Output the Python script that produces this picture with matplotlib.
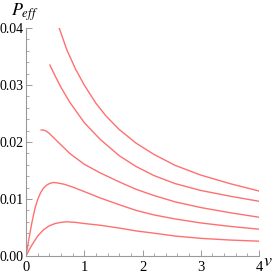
import matplotlib
matplotlib.use("Agg")
import matplotlib.pyplot as plt
from matplotlib.ticker import MultipleLocator, FormatStrFormatter

# curve data (v, P_eff)
v1 = [0.57, 0.7, 0.85, 1.0, 1.2, 1.37, 1.6, 1.89, 2.2, 2.56, 3.0, 3.5, 4.0]
p1 = [0.040, 0.0362, 0.0328, 0.0300, 0.0268, 0.0246, 0.0222, 0.0198, 0.0178, 0.0159, 0.0142, 0.0127, 0.0114]

v2 = [0.41, 0.5, 0.6, 0.75, 1.0, 1.27, 1.6, 1.89, 2.2, 2.56, 3.0, 3.5, 4.0]
p2 = [0.0335, 0.0316, 0.0296, 0.0270, 0.0234, 0.0205, 0.0176, 0.0157, 0.0141, 0.0127, 0.0115, 0.0105, 0.0096]

v3 = [0.26, 0.3, 0.35, 0.4, 0.5, 0.6, 0.75, 1.0, 1.27, 1.6, 1.89, 2.2, 2.56, 3.0, 3.5, 4.0]
p3 = [0.0221, 0.0221, 0.0219, 0.0215, 0.0205, 0.0195, 0.0180, 0.0161, 0.0146, 0.0130, 0.0117, 0.0106, 0.0095, 0.0085, 0.0076, 0.0068]

v4 = [0.0, 0.05, 0.1, 0.15, 0.2, 0.25, 0.3, 0.35, 0.4, 0.47, 0.55, 0.65, 0.8, 1.0, 1.27, 1.6, 1.89, 2.2, 2.56, 3.0, 3.5, 4.0]
p4 = [0.0, 0.0030, 0.0058, 0.0082, 0.0099, 0.0111, 0.0119, 0.0124, 0.0127, 0.0129, 0.0128, 0.0126, 0.0121, 0.0113, 0.0102, 0.0090, 0.0080, 0.0072, 0.0065, 0.0058, 0.0052, 0.0047]

v5 = [0.0, 0.05, 0.1, 0.15, 0.2, 0.3, 0.4, 0.5, 0.6, 0.7, 0.85, 1.0, 1.27, 1.6, 1.89, 2.2, 2.56, 3.0, 3.5, 4.0]
p5 = [0.0, 0.0010, 0.0019, 0.0027, 0.0035, 0.0046, 0.0053, 0.0057, 0.0059, 0.0060, 0.0059, 0.0057, 0.0054, 0.0049, 0.0044, 0.0040, 0.0035, 0.0031, 0.0028, 0.0026]

curves = [(v1, p1), (v2, p2), (v3, p3), (v4, p4), (v5, p5)]

plt.rcParams['mathtext.fontset'] = 'stix'
plt.rcParams['font.family'] = ['Liberation Serif', 'DejaVu Serif']

fig = plt.figure(figsize=(2.73, 2.78), dpi=100)
ax = fig.add_axes([26/273, 22/278, (259-26)/273, (256-28)/278])

for vx, py in curves:
    ax.plot(vx, py, color='#ff7070', lw=1.0, clip_on=True, solid_joinstyle='round')

ax.set_xlim(0, 4)
ax.set_ylim(0, 0.04)
for s in ['top', 'right']:
    ax.spines[s].set_visible(False)
for s in ['left', 'bottom']:
    ax.spines[s].set_color('#9a9a9a')
    ax.spines[s].set_linewidth(0.8)

ax.xaxis.set_major_locator(MultipleLocator(1))
ax.xaxis.set_minor_locator(MultipleLocator(0.2))
ax.yaxis.set_major_locator(MultipleLocator(0.01))
ax.yaxis.set_minor_locator(MultipleLocator(0.002))
ax.yaxis.set_major_formatter(FormatStrFormatter('%.2f'))
ax.tick_params(which='major', direction='in', length=4, width=0.7, color='#9a9a9a', pad=2,
               labelsize=10)
ax.tick_params(axis='x', which='major', pad=3.5, labelsize=10.5)
ax.tick_params(which='minor', direction='in', length=2.2, width=0.6, color='#9a9a9a')

fig.text(25/273, 1 - 12/278, r'$P_{eff}$', fontsize=13, ha='center', va='center')
fig.text(268/273, 1 - 261/278, r'$v$', fontsize=13, ha='center', va='center')

fig.savefig('out.png', dpi=100)
